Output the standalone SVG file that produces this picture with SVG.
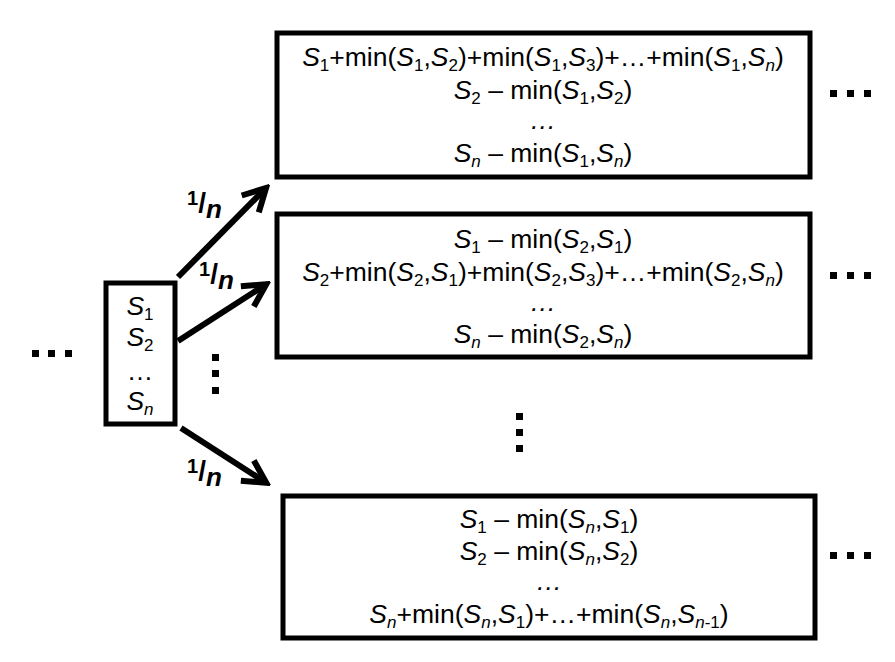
<svg xmlns="http://www.w3.org/2000/svg" width="895" height="662" viewBox="0 0 895 662">
<style>
.box{fill:#fff;stroke:#000;stroke-width:5}
.t{font-family:"Liberation Sans",Arial,sans-serif;font-size:26.5px;fill:#000;text-anchor:middle}
.i{font-style:italic}
.s{font-size:17px}
.c{stroke:#000;stroke-width:6;fill:none}
.lab{font-family:"Liberation Sans",Arial,sans-serif;font-weight:bold;fill:#000}
.d{fill:#000}
</style>
<defs>
<marker id="ah" viewBox="0 0 10 10" refX="8" refY="5" markerWidth="5" markerHeight="5" orient="auto" markerUnits="strokeWidth">
<path d="M1,1 L8.5,5 L1,9" fill="none" stroke="#000" stroke-width="2"/>
</marker>
</defs>
<rect width="895" height="662" fill="#fff"/>
<g id="connectors">
<line class="c" x1="178" y1="277" x2="265" y2="189" marker-end="url(#ah)"/>
<line class="c" x1="178" y1="341" x2="265" y2="285" marker-end="url(#ah)"/>
<line class="c" x1="181" y1="428" x2="265" y2="482" marker-end="url(#ah)"/>
<text class="lab" x="187" y="205"><tspan font-size="20">1</tspan><tspan font-size="28" dy="7">/</tspan><tspan font-size="26" font-style="italic" dy="6">n</tspan></text>
<text class="lab" x="199" y="276"><tspan font-size="20">1</tspan><tspan font-size="28" dy="7">/</tspan><tspan font-size="26" font-style="italic" dy="6">n</tspan></text>
<text class="lab" x="187" y="473"><tspan font-size="20">1</tspan><tspan font-size="28" dy="7">/</tspan><tspan font-size="26" font-style="italic" dy="6">n</tspan></text>
</g>
<g id="start">
<rect class="box" x="106" y="283" width="69" height="141"/>
<text class="t" x="140" y="315"><tspan class="i">S</tspan><tspan class="s" dy="5">1</tspan></text>
<text class="t" x="140" y="346"><tspan class="i">S</tspan><tspan class="s" dy="5">2</tspan></text>
<text class="t" x="140" y="380">…</text>
<text class="t" x="140" y="410"><tspan class="i">S</tspan><tspan class="s i" dy="5">n</tspan></text>
</g>
<g id="state1">
<rect class="box" x="277" y="33" width="533" height="144"/>
<text class="t" x="543" y="66"><tspan class="i">S</tspan><tspan class="s" dy="5">1</tspan><tspan dy="-5">+min(</tspan><tspan class="i">S</tspan><tspan class="s" dy="5">1</tspan><tspan dy="-5">,</tspan><tspan class="i">S</tspan><tspan class="s" dy="5">2</tspan><tspan dy="-5">)+min(</tspan><tspan class="i">S</tspan><tspan class="s" dy="5">1</tspan><tspan dy="-5">,</tspan><tspan class="i">S</tspan><tspan class="s" dy="5">3</tspan><tspan dy="-5">)+…+min(</tspan><tspan class="i">S</tspan><tspan class="s" dy="5">1</tspan><tspan dy="-5">,</tspan><tspan class="i">S</tspan><tspan class="s i" dy="5">n</tspan><tspan dy="-5">)</tspan></text>
<text class="t" x="543" y="99"><tspan class="i">S</tspan><tspan class="s" dy="5">2</tspan><tspan dy="-5"> – min(</tspan><tspan class="i">S</tspan><tspan class="s" dy="5">1</tspan><tspan dy="-5">,</tspan><tspan class="i">S</tspan><tspan class="s" dy="5">2</tspan><tspan dy="-5">)</tspan></text>
<text class="t i" x="543" y="129">…</text>
<text class="t" x="543" y="162"><tspan class="i">S</tspan><tspan class="s i" dy="5">n</tspan><tspan dy="-5"> – min(</tspan><tspan class="i">S</tspan><tspan class="s" dy="5">1</tspan><tspan dy="-5">,</tspan><tspan class="i">S</tspan><tspan class="s i" dy="5">n</tspan><tspan dy="-5">)</tspan></text>
</g>
<g id="state2">
<rect class="box" x="277" y="214" width="533" height="143"/>
<text class="t" x="543" y="248"><tspan class="i">S</tspan><tspan class="s" dy="5">1</tspan><tspan dy="-5"> – min(</tspan><tspan class="i">S</tspan><tspan class="s" dy="5">2</tspan><tspan dy="-5">,</tspan><tspan class="i">S</tspan><tspan class="s" dy="5">1</tspan><tspan dy="-5">)</tspan></text>
<text class="t" x="543" y="281"><tspan class="i">S</tspan><tspan class="s" dy="5">2</tspan><tspan dy="-5">+min(</tspan><tspan class="i">S</tspan><tspan class="s" dy="5">2</tspan><tspan dy="-5">,</tspan><tspan class="i">S</tspan><tspan class="s" dy="5">1</tspan><tspan dy="-5">)+min(</tspan><tspan class="i">S</tspan><tspan class="s" dy="5">2</tspan><tspan dy="-5">,</tspan><tspan class="i">S</tspan><tspan class="s" dy="5">3</tspan><tspan dy="-5">)+…+min(</tspan><tspan class="i">S</tspan><tspan class="s" dy="5">2</tspan><tspan dy="-5">,</tspan><tspan class="i">S</tspan><tspan class="s i" dy="5">n</tspan><tspan dy="-5">)</tspan></text>
<text class="t i" x="543" y="311">…</text>
<text class="t" x="543" y="343"><tspan class="i">S</tspan><tspan class="s i" dy="5">n</tspan><tspan dy="-5"> – min(</tspan><tspan class="i">S</tspan><tspan class="s" dy="5">2</tspan><tspan dy="-5">,</tspan><tspan class="i">S</tspan><tspan class="s i" dy="5">n</tspan><tspan dy="-5">)</tspan></text>
</g>
<g id="stateN">
<rect class="box" x="283" y="496" width="532" height="142"/>
<text class="t" x="549" y="528"><tspan class="i">S</tspan><tspan class="s" dy="5">1</tspan><tspan dy="-5"> – min(</tspan><tspan class="i">S</tspan><tspan class="s i" dy="5">n</tspan><tspan dy="-5">,</tspan><tspan class="i">S</tspan><tspan class="s" dy="5">1</tspan><tspan dy="-5">)</tspan></text>
<text class="t" x="549" y="560"><tspan class="i">S</tspan><tspan class="s" dy="5">2</tspan><tspan dy="-5"> – min(</tspan><tspan class="i">S</tspan><tspan class="s i" dy="5">n</tspan><tspan dy="-5">,</tspan><tspan class="i">S</tspan><tspan class="s" dy="5">2</tspan><tspan dy="-5">)</tspan></text>
<text class="t i" x="549" y="590">…</text>
<text class="t" x="549" y="623"><tspan class="i">S</tspan><tspan class="s i" dy="5">n</tspan><tspan dy="-5">+min(</tspan><tspan class="i">S</tspan><tspan class="s i" dy="5">n</tspan><tspan dy="-5">,</tspan><tspan class="i">S</tspan><tspan class="s" dy="5">1</tspan><tspan dy="-5">)+…+min(</tspan><tspan class="i">S</tspan><tspan class="s i" dy="5">n</tspan><tspan dy="-5">,</tspan><tspan class="i">S</tspan><tspan class="s i" dy="5">n</tspan><tspan class="s">-1</tspan><tspan dy="-5">)</tspan></text>
</g>
<g id="dots">
<rect class="d" x="32" y="350" width="7" height="7"/><rect class="d" x="48" y="350" width="7" height="7"/><rect class="d" x="65" y="350" width="7" height="7"/>
<rect class="d" x="830" y="90" width="7" height="7"/><rect class="d" x="847" y="90" width="7" height="7"/><rect class="d" x="864" y="90" width="7" height="7"/>
<rect class="d" x="830" y="272" width="7" height="7"/><rect class="d" x="847" y="272" width="7" height="7"/><rect class="d" x="864" y="272" width="7" height="7"/>
<rect class="d" x="830" y="552" width="7" height="7"/><rect class="d" x="847" y="552" width="7" height="7"/><rect class="d" x="864" y="552" width="7" height="7"/>
<rect class="d" x="212" y="354" width="7" height="7"/><rect class="d" x="212" y="370" width="7" height="7"/><rect class="d" x="212" y="387" width="7" height="7"/>
<rect class="d" x="516" y="413" width="7" height="7"/><rect class="d" x="516" y="429" width="7" height="7"/><rect class="d" x="516" y="445" width="7" height="7"/>
</g>
</svg>
